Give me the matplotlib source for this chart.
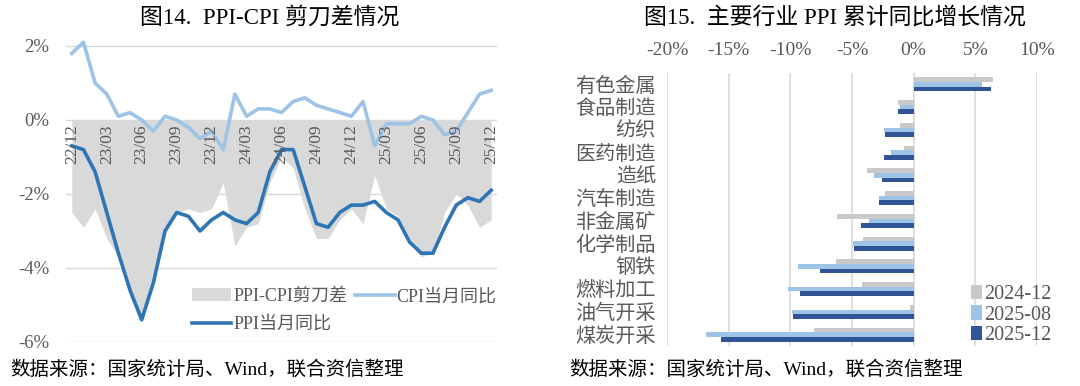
import numpy as np
import matplotlib.pyplot as plt

plt.rcParams['font.family'] = ['Liberation Serif', 'Noto Sans CJK SC']

# left chart data (%), monthly 2022-12 .. 2025-12
months = ['22/12', '23/01', '23/02', '23/03', '23/04', '23/05', '23/06', '23/07', '23/08', '23/09',
          '23/10', '23/11', '23/12', '24/01', '24/02', '24/03', '24/04', '24/05', '24/06', '24/07',
          '24/08', '24/09', '24/10', '24/11', '24/12', '25/01', '25/02', '25/03', '25/04', '25/05',
          '25/06', '25/07', '25/08', '25/09', '25/10', '25/11', '25/12']
cpi = [1.8, 2.1, 1.0, 0.7, 0.1, 0.2, 0.0, -0.3, 0.1, 0.0, -0.2, -0.5, -0.3,
       -0.8, 0.7, 0.1, 0.3, 0.3, 0.2, 0.5, 0.6, 0.4, 0.3, 0.2, 0.1,
       0.5, -0.7, -0.1, -0.1, -0.1, 0.1, 0.0, -0.4, -0.3, 0.2, 0.7, 0.8]
ppi = [-0.7, -0.8, -1.4, -2.5, -3.6, -4.6, -5.4, -4.4, -3.0, -2.5, -2.6, -3.0, -2.7,
       -2.5, -2.7, -2.8, -2.5, -1.4, -0.8, -0.8, -1.8, -2.8, -2.9, -2.5, -2.3,
       -2.3, -2.2, -2.5, -2.7, -3.3, -3.6, -3.6, -2.9, -2.3, -2.1, -2.2, -1.9]
gap = [-2.5, -2.9, -2.4, -3.2, -3.7, -4.8, -5.4, -4.1, -3.1, -2.5, -2.4, -2.5, -2.4,
       -1.7, -3.4, -2.9, -2.8, -1.7, -1.0, -1.3, -2.4, -3.2, -3.2, -2.7, -2.4,
       -2.8, -1.5, -2.4, -2.6, -3.2, -3.7, -3.6, -2.5, -2.0, -2.3, -2.9, -2.7]

# right chart data (%)
industries = ['有色金属', '食品制造', '纺织', '医药制造', '造纸', '汽车制造',
              '非金属矿', '化学制品', '钢铁', '燃料加工', '油气开采', '煤炭开采']
v2412 = [6.4, -1.3, -1.1, -0.8, -3.8, -2.3, -6.2, -4.1, -6.3, -4.2, -0.3, -8.1]
v2508 = [5.5, -1.1, -2.4, -1.8, -3.2, -2.8, -3.6, -4.9, -9.4, -10.2, -9.9, -16.8]
v2512 = [6.3, -1.3, -2.3, -2.4, -2.6, -2.8, -4.3, -4.8, -7.6, -9.2, -9.8, -15.6]

grid_c = '#d9d9d9'
txt_c = '#595959'

fig = plt.figure(figsize=(10.8, 3.86), dpi=100)

# ---- left: PPI-CPI gap ----
ax1 = fig.add_axes([0.0611, 0.114, 0.3991, 0.786])
x = np.arange(len(months))
h_gap = ax1.fill_between(x, 0, gap, color='#d9d9d9', lw=0, label='PPI-CPI剪刀差')
h_ppi, = ax1.plot(x, ppi, color='#2e75b6', lw=2.6, label='PPI当月同比')
h_cpi, = ax1.plot(x, cpi, color='#9dc3e6', lw=2.6, label='CPI当月同比')
ax1.set_xlim(-0.5, 36.5)
ax1.set_ylim(-6, 2.2)
ax1.set_yticks([-6, -4, -2, 0, 2])
ax1.set_yticklabels(['-6%', '-4%', '-2%', '0%', '2%'], color=txt_c, fontsize=13.5)
ax1.tick_params(axis='y', length=0, pad=12)
ax1.set_xticks([])
ax1.grid(axis='y', color=grid_c, lw=1)
ax1.set_axisbelow(True)
for s in ax1.spines.values():
    s.set_visible(False)
# category labels sit just below the zero line
for i in range(0, len(months), 3):
    ax1.text(i, -0.12, months[i], rotation=90, ha='center', va='top',
             color=txt_c, fontsize=12.5, zorder=5)
ax1.legend([h_gap, h_ppi, h_cpi], ['PPI-CPI剪刀差', 'PPI当月同比', 'CPI当月同比'],
           ncol=2, loc='lower right', bbox_to_anchor=(1.02, 0.0), frameon=False,
           borderpad=0, fontsize=13, handlelength=2.2, handletextpad=0.1,
           columnspacing=0.45, labelspacing=0.6, labelcolor=txt_c)
fig.text(0.25, 0.953, '图14.  PPI-CPI 剪刀差情况', ha='center', va='center',
         fontsize=16.5)

# ---- right: industry PPI ----
ax2 = fig.add_axes([0.6176, 0.1036, 0.3426, 0.7073])
y = np.arange(len(industries))
hgt = 0.205
ax2.barh(y - hgt, v2412, height=hgt, color='#c9c9c9', label='2024-12')
ax2.barh(y, v2508, height=hgt, color='#9dc3e6', label='2025-08')
ax2.barh(y + hgt, v2512, height=hgt, color='#2f5597', label='2025-12')
ax2.set_ylim(len(industries) - 0.5, -0.5)
ax2.set_xlim(-20, 10)
ax2.set_xticks([-20, -15, -10, -5, 0, 5, 10])
ax2.set_xticklabels(['-20%', '-15%', '-10%', '-5%', '0%', '5%', '10%'],
                    color=txt_c, fontsize=14)
ax2.xaxis.tick_top()
ax2.tick_params(axis='x', length=0, pad=10)
ax2.set_yticks(y)
ax2.set_yticklabels(industries, color=txt_c, fontsize=14.5)
ax2.tick_params(axis='y', length=0, pad=8)
ax2.grid(axis='x', color=grid_c, lw=1.2)
ax2.set_axisbelow(True)
for s in ax2.spines.values():
    s.set_visible(False)
ax2.legend(loc='lower right', bbox_to_anchor=(1.067, -0.033), frameon=False,
           borderpad=0, fontsize=14.5, handlelength=0.55, handleheight=0.75,
           handletextpad=0.1, labelspacing=0.05, labelcolor=txt_c)
fig.text(0.773, 0.953, '图15.  主要行业 PPI 累计同比增长情况', ha='center', va='center',
         fontsize=16.5)

# sources
src = '数据来源：国家统计局、Wind，联合资信整理'
fig.text(0.009, 0.042, src, ha='left', va='center', fontsize=14)
fig.text(0.527, 0.042, src, ha='left', va='center', fontsize=14)

fig.savefig('out.png', dpi=100)
